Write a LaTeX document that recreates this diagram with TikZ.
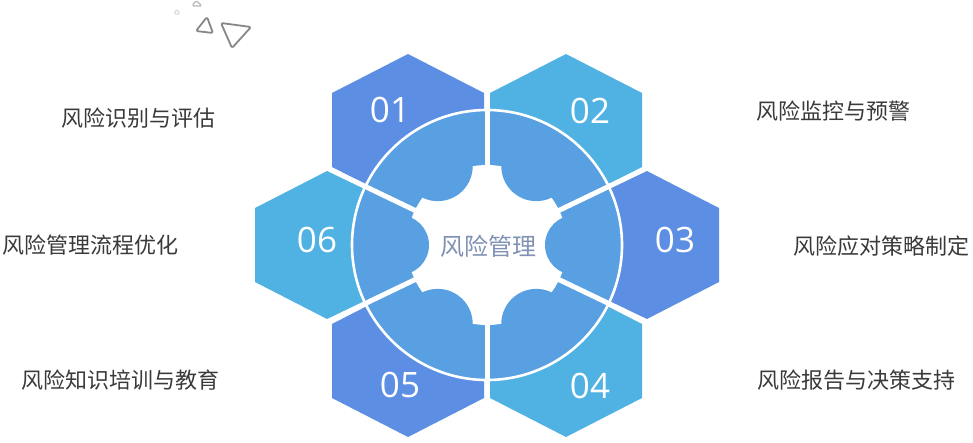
\documentclass[tikz,border=0pt]{standalone}
\usepackage{fontspec}
\newfontfamily\cjk{Noto Sans CJK SC}
\newfontfamily\numf{Open Sans}
\usetikzlibrary{calc}
\definecolor{hexdark}{RGB}{92,142,227}
\definecolor{hexlight}{RGB}{80,178,226}
\definecolor{innerblue}{RGB}{88,160,226}
\definecolor{labelc}{RGB}{58,58,58}
\definecolor{centerc}{RGB}{128,146,180}
\definecolor{trig}{RGB}{135,135,135}
\newcommand\myhex[3]{%
  \fill[#3] (#1-76,#2-37) -- (#1,#2-76) -- (#1+76,#2-37) -- (#1+76,#2+37) -- (#1,#2+76) -- (#1-76,#2+37) -- cycle;}
\tikzset{
  numtext/.style={text=white,font=\numf\fontsize{35pt}{40pt}\selectfont,inner sep=0pt},
  label/.style={text=labelc,font=\cjk\fontsize{22pt}{26pt}\selectfont,inner sep=0pt},
  sepline/.style={draw=white,line width=5pt},
  trilink/.style={draw=trig,line width=1.8pt,line join=round,rounded corners=1.5pt}
}
\begin{document}
\begin{tikzpicture}[x=1pt,y=-1pt]
\useasboundingbox (0,0) rectangle (973,442);
\fill[white] (0,0) rectangle (973,442);
% hexagons
\myhex{408}{130}{hexdark}
\myhex{566}{130}{hexlight}
\myhex{643}{245}{hexdark}
\myhex{566}{361}{hexlight}
\myhex{408}{361}{hexdark}
\myhex{331}{245}{hexlight}
\coordinate (c) at (487,245);
% inner circle
\fill[innerblue] (c) circle[radius=135pt];
\fill[white] (c) circle[radius=80pt];
\foreach \a in {0,180}
  \fill[innerblue] ($(c)+(\a:88pt)$) circle[radius=30pt];
\foreach \a in {58,122,238,302}
  \fill[innerblue] ($(c)+(\a:93pt)$) circle[radius=35pt];
% separators
\coordinate (s1) at (487,84);
\coordinate (s2) at (487,406);
\coordinate (s3) at (331,170);
\coordinate (s4) at (643,170);
\coordinate (s5) at (643,320);
\coordinate (s6) at (331,320);
\draw[sepline] (s1) -- (s2);
\foreach \s in {s3,s4,s5,s6}
  \draw[sepline] (c) -- ($(c)!1.02!(\s)$);
\draw[white,line width=2.6pt] (c) circle[radius=135pt];
\node[text=centerc,font=\cjk\fontsize{24pt}{28pt}\selectfont,inner sep=0pt] (ctr) at (488,246) {风险管理};
% numbers
\node[numtext] (n01) at (390,110) {01};
\node[numtext] (n02) at (590,111) {02};
\node[numtext] (n03) at (675,240) {03};
\node[numtext] (n04) at (590,386) {04};
\node[numtext] (n05) at (400,385) {05};
\node[numtext] (n06) at (317,240) {06};
% labels
\node[label] (l01) at (138,118) {风险识别与评估};
\node[label] (l02) at (833,111) {风险监控与预警};
\node[label] (l03) at (881,246) {风险应对策略制定};
\node[label] (l04) at (856,380) {风险报告与决策支持};
\node[label] (l05) at (120,380) {风险知识培训与教育};
\node[label] (l06) at (90,245) {风险管理流程优化};
% decorative triangles
\draw[trilink] (221,23) -- (251,27) -- (232,48) -- cycle;
\draw[trilink] (207,17) -- (213,33) -- (196,31) -- cycle;
\draw[trilink,draw=trig!60,line width=1.2pt] (196,0.5) -- (202,6) -- (192,6) -- cycle;
\draw[trilink,draw=trig!35,line width=1pt] (177,9) -- (180,14) -- (174,14) -- cycle;
\end{tikzpicture}
\end{document}
